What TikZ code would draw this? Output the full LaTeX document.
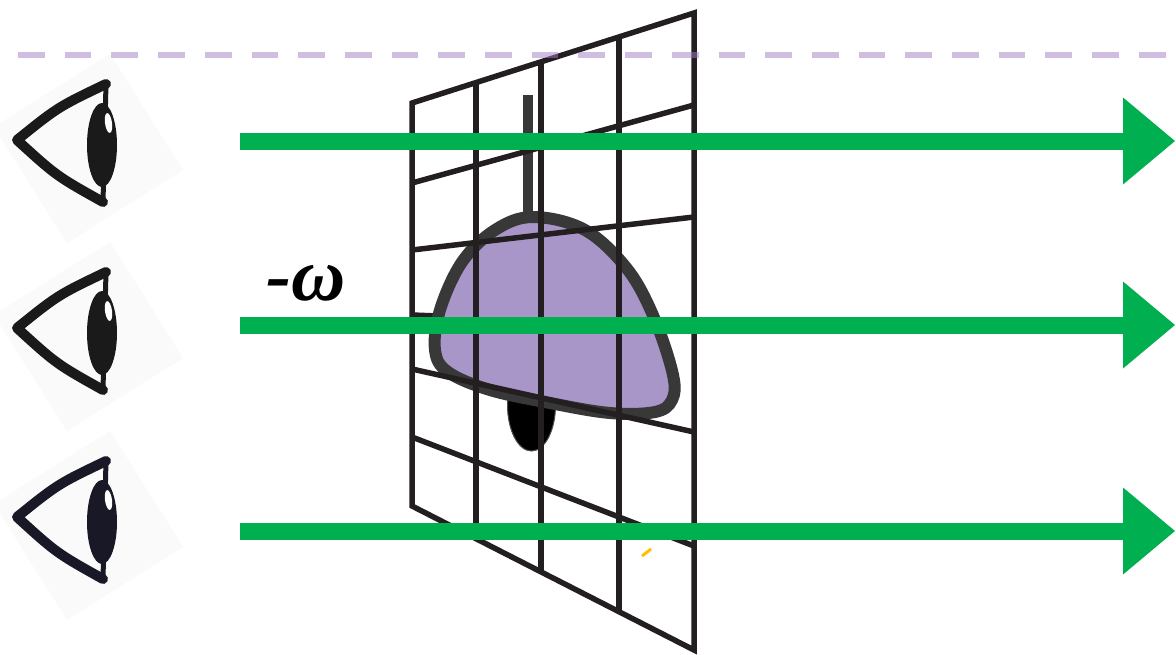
\documentclass[tikz,border=0pt]{standalone}
\usepackage{fontspec}
\newfontfamily\labelfont{Liberation Serif}
\usetikzlibrary{arrows.meta,calc}

\definecolor{flowgreen}{RGB}{0,176,80}
\definecolor{gridink}{RGB}{35,31,32}
\definecolor{bellfill}{RGB}{168,150,200}
\definecolor{bellrim}{RGB}{56,56,56}
\definecolor{horizon}{RGB}{163,127,197}
\definecolor{eyeink}{RGB}{26,26,26}
\definecolor{eyenavy}{RGB}{24,24,38}
\definecolor{tickgold}{RGB}{255,192,0}

\tikzset{
  gridline/.style={draw=gridink, line width=5.5pt},
  flow/.style={draw=flowgreen, line width=17pt,
    -{Triangle[length=52pt, width=87pt, line width=0pt]}},
  horizonline/.style={draw=horizon, draw opacity=0.5, line width=6pt,
    dash pattern=on 26.7pt off 20pt},
  % an eye seen side-on, looking to the right; origin at the corner of the lids
  eyeglyph/.pic={
    \fill[black!2] (93,-86) -- (166,30) -- (50,103) -- (-23,-13) -- cycle;
    \draw[eyeink, line width=10pt, line cap=round, line join=round]
      (89,-56) .. controls (41,-33) .. (0,0) .. controls (39.5,36) .. (86,62);
    \draw[eyeink, line width=5pt] (89,-56) -- (86,62);
    \fill[eyeink] (85,5) ellipse [x radius=15, y radius=42];
    \fill[white, rotate around={8:(91.5,-17)}] (91.5,-17) ellipse [x radius=3.5, y radius=10];
  }
}

\begin{document}
\begin{tikzpicture}[x=1pt, y=-1pt]
  \useasboundingbox (0,0) rectangle (1176,654);
  \fill[white] (0,0) rectangle (1176,654);

  % observers
  \pic (eyeA) at (17,140) {eyeglyph};
  \pic (eyeB) at (17,328) {eyeglyph};
  \begin{scope}
    \colorlet{eyeink}{eyenavy}
    \pic (eyeC) at (17,517) {eyeglyph};
  \end{scope}

  % corners of the screen
  \coordinate (tl) at (412,103);
  \coordinate (tr) at (694,13);
  \coordinate (bl) at (412,506);
  \coordinate (br) at (694,650);

  % the middle rung of the screen sits behind the bell
  \draw[gridline] (412,315) -- (694,326);

  % bell: clapper, stem, then the body
  \fill[black, draw=black!70, line width=1pt] (507.5,396) -- (507.5,405)
    .. controls (507.5,430) and (518,451) .. (531.5,451)
    .. controls (545,451) and (555.5,430) .. (555.5,405) -- (555.5,396) -- cycle;
  \fill[bellrim] (523,95) rectangle (533,222);
  \draw[bellrim, fill=bellfill, line width=12pt, line join=round]
    plot[smooth cycle, tension=0.6] coordinates {
      (533,217) (585,230) (628,270) (655,320) (673,375) (672,400)
      (655,412) (610,413) (550,403) (490,390) (448,372) (435,350)
      (440,310) (462,262) (495,230)};

  % screen grid
  \foreach \t in {0.227,0.457,0.734}
    \draw[gridline] ($(tl)!\t!(tr)$) -- ($(bl)!\t!(br)$);
  \draw[gridline] (412,183) -- (694,105);
  \draw[gridline] (412,250) -- (694,217);
  \draw[gridline] (412,369) -- (694,432);
  \draw[gridline] (412,437) -- (694,546);
  \draw[gridline, line join=miter] (tl) -- (tr) -- (br) -- (bl) -- cycle;

  \draw[tickgold, line width=3pt] (642,556) -- (651,549);

  % horizon
  \coordinate (hzA) at (18,55);
  \coordinate (hzB) at (1176,55);
  \draw[horizonline] (hzA) -- (hzB);

  % lines of sight
  \coordinate (sA) at (240,141);  \coordinate (tA) at (1175,141);
  \coordinate (sB) at (240,325);  \coordinate (tB) at (1175,325);
  \coordinate (sC) at (240,531);  \coordinate (tC) at (1175,531);
  \draw[flow] (sA) -- (tA);
  \draw[flow] (sB) -- (tB);
  \draw[flow] (sC) -- (tC);

  \node[anchor=base west, inner sep=0pt,
        font=\labelfont\bfseries\itshape\fontsize{75}{75}\selectfont] (freq) at (266,300)
    {-ω};
\end{tikzpicture}
\end{document}
